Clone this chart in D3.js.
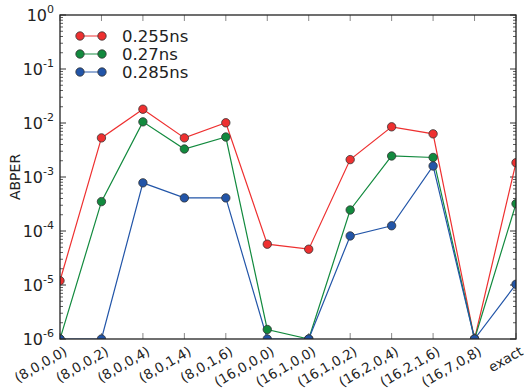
<!DOCTYPE html>
<html>
<head>
<meta charset="utf-8">
<script src="https://cdn.jsdelivr.net/npm/d3@7"></script>
<style>
  body { margin: 0; background: #fff; }
  text { font-family: "DejaVu Sans", sans-serif; fill: #222; }
</style>
</head>
<body>
<div id="chart"></div>
<script>
// categories along the x axis
const categories = ["(8,0,0,0)", "(8,0,0,2)", "(8,0,0,4)", "(8,0,1,4)", "(8,0,1,6)",
  "(16,0,0,0)", "(16,1,0,0)", "(16,1,0,2)", "(16,2,0,4)", "(16,2,1,6)", "(16,7,0,8)", "exact"];

// ABPER values per series
const seriesNames = ["0.255ns", "0.27ns", "0.285ns"];
const values255 = [1.2e-5, 5.3e-3, 1.8e-2, 5.3e-3, 1.01e-2, 5.7e-5, 4.6e-5, 2.1e-3, 8.5e-3, 6.3e-3, 1e-6, 1.84e-3];
const values270 = [1e-6, 3.5e-4, 1.05e-2, 3.3e-3, 5.5e-3, 1.5e-6, 1e-6, 2.45e-4, 2.45e-3, 2.3e-3, 1e-6, 3.2e-4];
const values285 = [1e-6, 1e-6, 7.8e-4, 4.1e-4, 4.1e-4, 1e-6, 1e-6, 8.1e-5, 1.25e-4, 1.6e-3, 1e-6, 1.03e-5];
const yTickExps = [-6, -5, -4, -3, -2, -1, 0];

const colors = ["#ee3030", "#128a3e", "#2255a8"];
const allSeries = [values255, values270, values285];

const W = 524, H = 389;
const margin = {top: 15, right: 8, bottom: 50, left: 60};
const innerW = W - margin.left - margin.right;
const innerH = H - margin.top - margin.bottom;

const svg = d3.select("#chart").append("svg")
  .attr("width", W)
  .attr("height", H);

const x = d3.scalePoint().domain(categories).range([0, innerW]);
const y = d3.scaleLog().domain([1e-6, 1]).range([innerH, 0]);

const g = svg.append("g").attr("transform", `translate(${margin.left},${margin.top})`);

// clip so markers on the frame get cut like the original
g.append("clipPath").attr("id", "clip")
  .append("rect").attr("width", innerW).attr("height", innerH);

// minor + major y ticks, left and right, pointing inwards
const minor = [];
for (let e = -6; e < 0; e++) for (let k = 2; k <= 9; k++) minor.push(k * Math.pow(10, e));
const yTicks = g.append("g");
minor.forEach(v => {
  yTicks.append("line").attr("x1", 0).attr("x2", 3).attr("y1", y(v)).attr("y2", y(v))
    .attr("stroke", "#333").attr("stroke-width", 0.8);
  yTicks.append("line").attr("x1", innerW).attr("x2", innerW - 3).attr("y1", y(v)).attr("y2", y(v))
    .attr("stroke", "#333").attr("stroke-width", 0.8);
});
yTickExps.forEach(e => {
  const v = Math.pow(10, e);
  yTicks.append("line").attr("x1", 0).attr("x2", 6).attr("y1", y(v)).attr("y2", y(v))
    .attr("stroke", "#333").attr("stroke-width", 1);
  yTicks.append("line").attr("x1", innerW).attr("x2", innerW - 6).attr("y1", y(v)).attr("y2", y(v))
    .attr("stroke", "#333").attr("stroke-width", 1);
  const t = yTicks.append("text")
    .attr("x", -6).attr("y", y(v) + 6)
    .attr("text-anchor", "end")
    .style("font-size", "16px");
  t.append("tspan").text("10");
  t.append("tspan").attr("dy", -8).style("font-size", "11px").text(e);
});

// x ticks top and bottom
categories.forEach(c => {
  g.append("line").attr("x1", x(c)).attr("x2", x(c)).attr("y1", innerH).attr("y2", innerH - 6)
    .attr("stroke", "#888").attr("stroke-width", 1);
  g.append("line").attr("x1", x(c)).attr("x2", x(c)).attr("y1", 0).attr("y2", 6)
    .attr("stroke", "#888").attr("stroke-width", 1);
  g.append("text")
    .attr("transform", `translate(${x(c) + 8},${innerH + 15}) rotate(-30)`)
    .attr("text-anchor", "end")
    .style("font-size", "13.5px")
    .text(c);
});

// lines and markers
const line = d3.line().x((d, i) => x(categories[i])).y(d => y(d));
const plot = g.append("g").attr("clip-path", "url(#clip)");
allSeries.forEach((vals, s) => {
  plot.append("path").datum(vals)
    .attr("d", line)
    .attr("fill", "none")
    .attr("stroke", colors[s])
    .attr("stroke-width", 1.2);
});
allSeries.forEach((vals, s) => {
  plot.selectAll(null).data(vals).join("circle")
    .attr("cx", (d, i) => x(categories[i]))
    .attr("cy", d => y(d))
    .attr("r", 4.2)
    .attr("fill", colors[s])
    .attr("stroke", "#333")
    .attr("stroke-width", 0.8);
});

// frame
g.append("rect").attr("width", innerW).attr("height", innerH)
  .attr("fill", "none").attr("stroke", "#222").attr("stroke-width", 1.3);

// y label
svg.append("text")
  .attr("transform", `translate(20,${margin.top + innerH / 2}) rotate(-90)`)
  .attr("text-anchor", "middle")
  .style("font-size", "14px")
  .text("ABPER");

// legend
const legend = g.append("g");
seriesNames.forEach((name, s) => {
  const ly = 21 + s * 18;
  legend.append("line").attr("x1", 20).attr("x2", 42).attr("y1", ly).attr("y2", ly)
    .attr("stroke", colors[s]).attr("stroke-width", 1.2).attr("opacity", 0.8);
  [20, 42].forEach(cx => legend.append("circle")
    .attr("cx", cx).attr("cy", ly).attr("r", 4.2)
    .attr("fill", colors[s]).attr("stroke", "#333").attr("stroke-width", 0.8));
  legend.append("text").attr("x", 62).attr("y", ly + 6)
    .style("font-size", "16.5px").text(name);
});
</script>
</body>
</html>
